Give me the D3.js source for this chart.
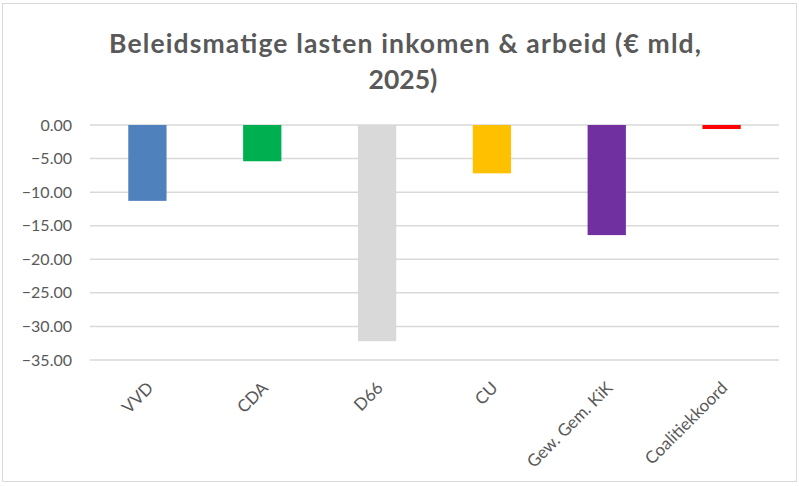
<!DOCTYPE html>
<html>
<head>
<meta charset="utf-8">
<script src="https://cdn.jsdelivr.net/npm/d3@7"></script>
<style>
  body { margin: 0; background: #fff; }
  svg { display: block; }
</style>
</head>
<body>
<svg width="799" height="486"></svg>
<script>
// Data
var categories = ["VVD", "CDA", "D66", "CU", "Gew. Gem. KiK", "Coalitiekkoord"];
var values = [-11.3, -5.4, -32.2, -7.2, -16.4, -0.6];
var colors = ["#4f81bd", "#00b050", "#d9d9d9", "#ffc000", "#7030a0", "#ff0000"];
var yTicks = [0, -5, -10, -15, -20, -25, -30, -35];
var titleLines = ["Beleidsmatige lasten inkomen & arbeid (€ mld,", "2025)"];

var svg = d3.select("svg");
var margin = {top: 125, right: 20, bottom: 126, left: 90};
var width = 799 - margin.left - margin.right;
var height = 486 - margin.top - margin.bottom;

// chart area border
svg.append("rect")
    .attr("x", 2.5).attr("y", 3.5)
    .attr("width", 794).attr("height", 478)
    .attr("fill", "#fff")
    .attr("stroke", "#d9d9d9")
    .attr("stroke-width", 1);

// title
var title = svg.append("text")
    .attr("text-anchor", "middle")
    .attr("font-family", "Lato, 'Open Sans', sans-serif")
    .attr("font-weight", "bold")
    .attr("font-size", "26.5px")
    .attr("fill", "#595959");

title.append("tspan")
    .attr("x", 405)
    .attr("y", 53)
    .attr("textLength", 592)
    .attr("lengthAdjust", "spacing")
    .text(titleLines[0]);

title.append("tspan")
    .attr("x", 403)
    .attr("y", 89)
    .text(titleLines[1]);

var g = svg.append("g")
    .attr("transform", "translate(" + margin.left + "," + margin.top + ")");

// scales
var x = d3.scaleBand()
    .domain(categories)
    .range([0, width])
    .paddingInner(2 / 3)
    .paddingOuter(1 / 3);

var y = d3.scaleLinear()
    .domain([0, -35])
    .range([0, height]);

// gridlines
g.selectAll(".grid")
    .data(yTicks)
    .enter()
    .append("line")
    .attr("x1", 0)
    .attr("x2", width)
    .attr("y1", function(d) { return y(d); })
    .attr("y2", function(d) { return y(d); })
    .attr("stroke", "#d9d9d9")
    .attr("stroke-width", 1.5);

// y axis labels
var yAxis = d3.axisLeft(y)
    .tickValues(yTicks)
    .tickFormat(d3.format(".2f"))
    .tickSize(0)
    .tickPadding(18);

var ya = g.append("g").call(yAxis);
ya.select(".domain").remove();
ya.selectAll("text")
    .attr("font-family", "Lato, 'Open Sans', sans-serif")
    .attr("font-size", "16px")
    .attr("fill", "#595959");

// bars
g.selectAll(".bar")
    .data(values)
    .enter()
    .append("rect")
    .attr("x", function(d, i) { return x(categories[i]); })
    .attr("y", function(d) { return y(0); })
    .attr("width", x.bandwidth())
    .attr("height", function(d) { return y(d) - y(0); })
    .attr("fill", function(d, i) { return colors[i]; });

// x axis labels
var xa = g.append("g")
    .attr("transform", "translate(0," + height + ")")
    .call(d3.axisBottom(x).tickSize(0).tickPadding(0));
xa.select(".domain").remove();
xa.selectAll("text")
    .attr("font-family", "Lato, 'Open Sans', sans-serif")
    .attr("font-size", "17px")
    .attr("fill", "#595959")
    .attr("text-anchor", "end")
    .attr("dy", "0")
    .attr("transform", "translate(7,29) rotate(-45)");
</script>
</body>
</html>
